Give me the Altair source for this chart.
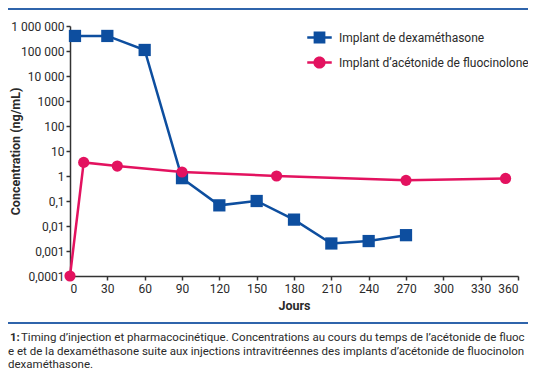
import altair as alt
import pandas as pd

# ---- data ----
series = ["Implant de dexaméthasone", "Implant d’acétonide de fluocinolone"]
days_dex = [4, 30, 60, 90, 120, 150, 180, 210, 240, 270]
conc_dex = [400000, 400000, 110000, 0.82, 0.067, 0.1, 0.018, 0.002, 0.0025, 0.0043]
days_fa = [0, 11, 38, 90, 166, 270, 350]
conc_fa = [0.0001, 3.5, 2.5, 1.45, 1.0, 0.67, 0.8]

x_ticks = list(range(0, 361, 30))
y_ticks = [1e-4, 1e-3, 1e-2, 1e-1, 1, 10, 100, 1000, 10000, 100000, 1000000]
y_labels = ["0,0001", "0,001", "0,01", "0,1", "1", "10", "100", "1000",
            "10 000", "100 000", "1 000 000"]

caption_num = "1:"
caption_1 = "Timing d’injection et pharmacocinétique. Concentrations au cours du temps de l’acétonide de fluoc"
caption_2 = "e et de la dexaméthasone suite aux injections intravitréennes des implants d’acétonide de fluocinolon"
caption_3 = "dexaméthasone."

BLUE = "#0d4e9f"
PINK = "#e3125f"
TXT = "#2a2a2a"
FONT = "Roboto"

df = pd.DataFrame(
    {"series": [series[0]] * len(days_dex) + [series[1]] * len(days_fa),
     "day": days_dex + days_fa,
     "conc": conc_dex + conc_fa}
)

# label expression for French number formatting
expr = ""
for t, lab in zip(y_ticks[:-1], y_labels[:-1]):
    expr += f"datum.value < {t * 3} ? '{lab}' : "
expr += f"'{y_labels[-1]}'"

W, H = 448, 250
PL, PT, PR, PB = 62, 18, 10, 96   # svg = 520 x 364

x_enc = alt.X("day:Q",
              scale=alt.Scale(domain=[0, 360], nice=False),
              axis=alt.Axis(values=x_ticks, title="Jours", grid=False,
                            tickSize=4, labelPadding=3, titlePadding=5,
                            labelFontSize=12, titleFontSize=12.5,
                            titleFontWeight="bold"))
y_enc = alt.Y("conc:Q",
              scale=alt.Scale(type="log", domain=[1e-4, 1e6], nice=False),
              axis=alt.Axis(values=y_ticks, labelExpr=expr,
                            title="Concentration (ng/mL)", grid=False,
                            tickSize=4, labelPadding=2, labelFontSize=12,
                            titleFontSize=12.5, titleFontWeight="bold",
                            titleX=-48, titleY=125))

base = alt.Chart(df).encode(x=x_enc, y=y_enc)

dex = base.transform_filter(alt.datum.series == series[0])
fa = base.transform_filter(alt.datum.series == series[1])

dex_line = dex.mark_line(color=BLUE, strokeWidth=2.5, clip=False)
dex_pts = dex.mark_point(shape="square", filled=True, color=BLUE, size=150,
                         opacity=1, clip=False)
fa_line = fa.mark_line(color=PINK, strokeWidth=2.5, clip=False)
fa_pts = fa.mark_point(shape="circle", filled=True, color=PINK, size=125,
                       opacity=1, clip=False)

# legend carrier (no data drawn, explicit domains)
path_sq = "M-1,-0.1H1V0.1H-1Z M-0.48,-0.48H0.48V0.48H-0.48Z"
path_ci = "M-1,-0.1H1V0.1H-1Z M0.5,0A0.5,0.5 0 1,1 -0.5,0A0.5,0.5 0 1,1 0.5,0Z"
leg = alt.Legend(title=None, orient="none", legendX=237, legendY=-1,
                 symbolSize=600, labelFontSize=12, labelColor=TXT,
                 labelFont=FONT, labelOffset=7, rowPadding=6, padding=0,
                 labelLimit=400, symbolStrokeWidth=0, symbolOpacity=1)
legend_layer = base.transform_filter("datum.day < -1").mark_point(
    filled=True, size=600).encode(
    color=alt.Color("series:N", scale=alt.Scale(domain=series, range=[BLUE, PINK]),
                    legend=leg),
    shape=alt.Shape("series:N", scale=alt.Scale(domain=series, range=[path_sq, path_ci]),
                    legend=leg),
)

one = alt.Data(values=[{"k": 1}])
RULE = "#2f64ab"
top_rule = alt.Chart(one).mark_rule(color=RULE, strokeWidth=2).encode(
    x=alt.value(-PL), x2=alt.value(W + PR), y=alt.value(-PT + 1))
bottom_rule = alt.Chart(one).mark_rule(color=RULE, strokeWidth=2).encode(
    x=alt.value(-PL), x2=alt.value(W + PR), y=alt.value(297))

def cap(text, x, y, bold=False, limit=0):
    kw = dict(text=text, align="left", baseline="alphabetic", font=FONT,
              fontSize=11.5, color=TXT, fontWeight="bold" if bold else "normal")
    if limit:
        kw.update(limit=limit, ellipsis="")
    return alt.Chart(one).mark_text(**kw).encode(x=alt.value(x), y=alt.value(y))

captions = [
    cap(caption_num, -60, 315, bold=True),
    cap(caption_1, -49, 315, limit=W + PR + 49),
    cap(caption_2, -62, 328.5, limit=W + PR + 62),
    cap(caption_3, -62, 342),
]

chart = alt.layer(
    top_rule, bottom_rule, dex_line, dex_pts, fa_line, fa_pts, legend_layer,
    *captions
).properties(
    width=W, height=H,
    autosize=alt.AutoSizeParams(type="none"),
    padding={"left": PL, "top": PT, "right": PR, "bottom": PB},
).configure_view(stroke=None).configure_axis(
    labelFont=FONT, titleFont=FONT, labelColor=TXT, titleColor=TXT,
    domainColor="#333333", tickColor="#333333", domainWidth=1.5, tickWidth=1.5
)

chart.save("out.html", embed_options={"renderer": "svg", "actions": False})
